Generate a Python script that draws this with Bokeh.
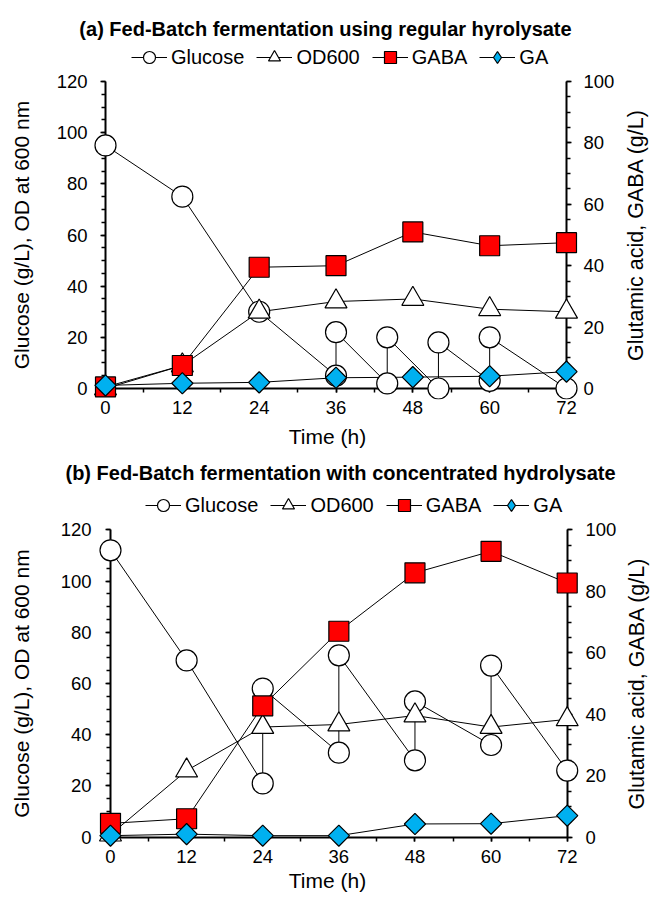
import math
from bokeh.plotting import figure
from bokeh.models import (Range1d, LinearAxis, SingleIntervalTicker, Legend, LegendItem,
                          CustomJSTickFormatter)
from bokeh.core.properties import value
from bokeh.layouts import column
from bokeh.embed import file_html
from bokeh.resources import INLINE

FONT = "Liberation Sans"

# ---------------- data ----------------
hours = [0, 12, 24, 36, 48, 60, 72]

# (a) regular hydrolysate
a_glucose_h = [0, 12, 24, 36, 36, 44, 44, 52, 52, 60, 60, 72]
a_glucose = [95, 75, 30, 5, 22, 2, 20, 0, 18, 3, 20, 0]
a_od600 = [0, 9, 30, 34, 35, 31, 30]
a_gaba = [0.5, 7.5, 39.5, 40, 51, 46.5, 47.5]
a_ga = [1, 1.7, 2, 3.5, 3.7, 4, 5.5]

# (b) concentrated hydrolysate
b_glucose_h = [0, 12, 24, 24, 36, 36, 48, 48, 60, 60, 72]
b_glucose = [112, 69, 21, 58, 33, 71, 30, 53, 36, 67, 26]
b_od600 = [1, 26, 43, 44, 47.5, 43, 46]
b_gaba = [4.5, 6, 42.7, 67, 86, 93, 82.7]
b_ga = [0.5, 1, 0.5, 0.5, 4.3, 4.4, 7]

titles = ["(a) Fed-Batch fermentation using regular hyrolysate",
          "(b) Fed-Batch fermentation with concentrated hydrolysate"]
legend_labels = ["Glucose", "OD600", "GABA", "GA"]
left_label = "Glucose (g/L), OD at 600 nm"
right_label = "Glutamic acid, GABA (g/L)"
x_label = "Time (h)"

W = 654


def style_text_axis(ax):
    ax.axis_line_color = None
    ax.major_tick_line_color = None
    ax.minor_tick_line_color = None
    ax.major_tick_in = 0
    ax.major_tick_out = 0
    ax.minor_tick_in = 0
    ax.minor_tick_out = 0
    ax.major_label_text_font = FONT
    ax.major_label_text_font_size = "18.5px"
    ax.major_label_text_color = "black"
    ax.axis_label_text_font = FONT
    ax.axis_label_text_font_size = "21px"
    ax.axis_label_text_font_style = "normal"
    ax.axis_label_text_color = "black"


def style_line_axis(ax, tick_out, minor_out):
    ax.level = "underlay"
    ax.axis_label = None
    ax.formatter = CustomJSTickFormatter(code="return ''")
    ax.major_label_standoff = 0
    ax.axis_line_width = 2
    ax.axis_line_color = "black"
    ax.major_tick_line_width = 1.5
    ax.minor_tick_line_width = 1.5
    ax.major_tick_line_color = "black"
    ax.minor_tick_line_color = "black"
    ax.major_tick_in = 0
    ax.minor_tick_in = 0
    ax.major_tick_out = tick_out
    ax.minor_tick_out = minor_out


def make_panel(title, glc_h, glc, od, gaba, ga, g):
    H = g["H"]
    fb = g["frame_bottom"]
    x0, x72, y120, y0 = g["x0"], g["x72"], g["y120"], g["y0"]
    spu_x = (x72 - x0) / 72.0
    spu_y = (y0 - y120) / 120.0

    def dx(px):   # canvas px -> data x
        return (px - x0) / spu_x

    def dy(py):   # canvas px -> data y (left axis)
        return (y0 - py) / spu_y

    p = figure(width=W, height=H,
               x_range=Range1d(dx(0), dx(W)), y_range=Range1d(dy(fb), dy(0)),
               output_backend="svg", toolbar_location=None,
               x_axis_location=None, y_axis_location=None)
    p.min_border_left = 0
    p.min_border_right = 0
    p.min_border_top = 0
    p.min_border_bottom = H - fb
    p.outline_line_color = None
    p.background_fill_color = "white"
    p.border_fill_color = "white"
    p.grid.visible = False
    p.extra_y_ranges = {"r": Range1d(dy(fb) * 100 / 120, dy(0) * 100 / 120)}

    def yticker():
        return SingleIntervalTicker(interval=20, num_minor_ticks=4)

    def xticker():
        return SingleIntervalTicker(interval=12, num_minor_ticks=2)

    # axis lines and ticks pinned at x=0, x=72 and y=0
    yl_line = LinearAxis(ticker=yticker(), bounds=(0, 120), fixed_location=0)
    yr_line = LinearAxis(y_range_name="r", ticker=yticker(), bounds=(0, 100), fixed_location=72)
    xb_line = LinearAxis(ticker=xticker(), bounds=(0, 72), fixed_location=0)
    style_line_axis(yl_line, 5, 4)
    style_line_axis(yr_line, 5, 4)
    style_line_axis(xb_line, 4, 4)

    # tick labels (placed from the frame edges)
    yl = LinearAxis(ticker=yticker(), bounds=(0, 120))
    yr = LinearAxis(y_range_name="r", ticker=yticker(), bounds=(0, 100))
    xb = LinearAxis(ticker=xticker(), bounds=(0, 72), axis_label=x_label)
    for ax in (yl, yr, xb):
        style_text_axis(ax)
    yl.major_label_standoff = -g["left_lab_right"]
    yr.major_label_standoff = g["right_lab_left"] - W
    xb.major_label_standoff = g["xb1"]
    xb.axis_label_standoff = g["xb2"]

    p.add_layout(yl_line, "left")
    p.add_layout(yr_line, "right")
    p.add_layout(xb_line, "below")
    p.add_layout(yl, "left")
    p.add_layout(yr, "right")
    p.add_layout(xb, "below")

    kw = dict(line_color="black", line_width=1)
    l1 = p.line(glc_h, glc, **kw)
    l2 = p.line(hours, od, **kw)
    l3 = p.line(hours, gaba, y_range_name="r", **kw)
    l4 = p.line(hours, ga, y_range_name="r", **kw)
    mk = dict(line_color="black", line_width=1.2)
    s1 = p.scatter(glc_h, glc, marker="circle", size=21, fill_color="white", **mk)
    s2 = p.scatter(hours, od, marker="triangle", size=22, fill_color="white", **mk)
    s3 = p.scatter(hours, gaba, marker="square", size=20, fill_color="#FF0000",
                   y_range_name="r", **mk)
    # narrow diamond (used for the legend swatch), covered by the square diamonds below
    d4 = p.scatter(hours, ga, marker="diamond", size=13, fill_color="#00B0F0",
                   y_range_name="r", **mk)
    s4 = p.scatter(hours, ga, marker="square", angle=math.pi / 4, size=15,
                   fill_color="#00B0F0", y_range_name="r", **mk)

    # titles as text
    p.text(x=[dx(g["title_cx"])], y=[dy(g["title_cy"])], text=[title],
           text_font=value(FONT), text_font_size=value("20px"), text_font_style="bold",
           text_align="center", text_baseline="middle", text_color="black")
    p.text(x=[dx(g["left_title_cx"])], y=[60], text=[left_label], angle=math.pi / 2,
           text_font=value(FONT), text_font_size=value("21px"),
           text_align="center", text_baseline="middle", text_color="black")
    p.text(x=[dx(g["right_title_cx"])], y=[50], text=[right_label], angle=math.pi / 2,
           y_range_name="r",
           text_font=value(FONT), text_font_size=value("21.5px"),
           text_align="center", text_baseline="middle", text_color="black")

    glyph_h = 30
    legend = Legend(items=[
        LegendItem(label=legend_labels[0], renderers=[l1, s1]),
        LegendItem(label=legend_labels[1], renderers=[l2, s2]),
        LegendItem(label=legend_labels[2], renderers=[l3, s3]),
        LegendItem(label=legend_labels[3], renderers=[l4, d4]),
    ], orientation="horizontal",
        location=(g["legend_left"], fb - (g["legend_cy"] + glyph_h / 2)))
    legend.border_line_color = None
    legend.background_fill_alpha = 0
    legend.padding = 0
    legend.margin = 0
    legend.spacing = 12
    legend.glyph_width = 36
    legend.glyph_height = glyph_h
    legend.label_standoff = 4
    legend.label_text_font = FONT
    legend.label_text_font_size = "20px"
    legend.label_text_color = "black"
    p.add_layout(legend, "center")
    return p


geo_a = dict(H=453, frame_bottom=399, x0=105, x72=566, y120=81, y0=388,
             left_lab_right=87, right_lab_left=583, xb1=1, xb2=8,
             title_cx=325, title_cy=28, left_title_cx=20.5, right_title_cx=635,
             legend_left=131, legend_cy=57)
geo_b = dict(H=445, frame_bottom=394, x0=110, x72=566.7, y120=76.3, y0=383.7,
             left_lab_right=91, right_lab_left=585, xb1=2, xb2=3,
             title_cx=340, title_cy=19, left_title_cx=20.5, right_title_cx=636,
             legend_left=145, legend_cy=52)

pa = make_panel(titles[0], a_glucose_h, a_glucose, a_od600, a_gaba, a_ga, geo_a)
pb = make_panel(titles[1], b_glucose_h, b_glucose, b_od600, b_gaba, b_ga, geo_b)

layout = column(pa, pb, spacing=0)
open("out.html", "w").write(file_html(layout, INLINE))
